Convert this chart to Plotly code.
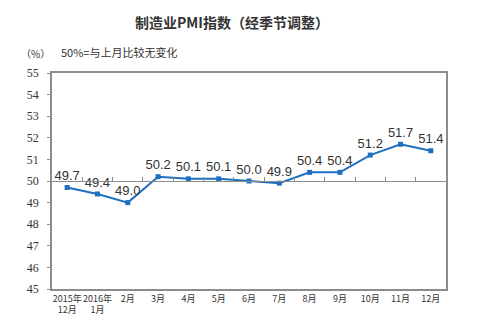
import plotly.graph_objects as go

months = ["2015年<br>12月", "2016年<br>1月", "2月", "3月", "4月", "5月", "6月",
          "7月", "8月", "9月", "10月", "11月", "12月"]
pmi = [49.7, 49.4, 49.0, 50.2, 50.1, 50.1, 50.0, 49.9, 50.4, 50.4, 51.2, 51.7, 51.4]
yticks = [45, 46, 47, 48, 49, 50, 51, 52, 53, 54, 55]

idx = list(range(len(months)))
bounds = [i + 0.5 for i in idx[:-1]]

L, R, T, B = 52, 54, 73, 40
pw, ph = 500 - L - R, 329 - T - B
def px(x): return (x - L) / pw
def py(y): return (329 - B - y) / ph

fig = go.Figure()
fig.add_trace(go.Scatter(
    x=idx, y=pmi, mode="lines+markers+text",
    line=dict(color="#1f6fc0", width=2),
    marker=dict(symbol="square", size=5, color="#1f6fc0"),
    text=[f"{v:.1f}" for v in pmi], textposition="top center",
    textfont=dict(family="Liberation Sans, Arial", size=13, color="#333333"),
    cliponaxis=False, showlegend=False,
))
fig.add_trace(go.Scatter(x=[idx[0]], y=[pmi[0]], xaxis="x2", mode="markers",
                         marker=dict(opacity=0), showlegend=False, hoverinfo="skip"))

fig.update_layout(
    width=500, height=329,
    margin=dict(l=L, r=R, t=T, b=B),
    paper_bgcolor="white", plot_bgcolor="white",
    xaxis=dict(range=[-0.5, len(months) - 0.5], tickvals=idx, ticktext=months,
               tickangle=0, automargin=False,
               showgrid=False, zeroline=False, showline=True, mirror=True,
               linecolor="#8c8c8c", linewidth=1.5, ticks="",
               tickfont=dict(family="Noto Sans CJK SC", size=9, color="#333333")),
    xaxis2=dict(overlaying="x", range=[-0.5, len(months) - 0.5], tickvals=bounds,
                showticklabels=False, anchor="free", position=0.5, side="bottom",
                automargin=False,
                showgrid=False, zeroline=False, showline=True, linecolor="#8c8c8c",
                linewidth=1.2, ticks="inside", ticklen=4, tickcolor="#8c8c8c"),
    yaxis=dict(range=[45, 55], tickvals=yticks, showgrid=False, zeroline=False,
               automargin=False,
               showline=True, mirror=True, linecolor="#8c8c8c", linewidth=1.5,
               ticks="outside", ticklen=3, tickcolor="#8c8c8c", ticklabelstandoff=6,
               tickfont=dict(family="Liberation Serif, Times New Roman", size=12, color="#333333")),
    annotations=[
        dict(text="<b>制造业PMI指数（经季节调整）</b>", x=px(232), y=py(22), xref="paper", yref="paper",
             xanchor="center", yanchor="middle",
             showarrow=False, font=dict(family="Noto Sans CJK SC", size=14, color="#333333")),
        dict(text="（%）", x=px(35), y=py(53), xref="paper", yref="paper",
             xanchor="center", yanchor="middle",
             showarrow=False, font=dict(family="Noto Sans CJK SC", size=10, color="#333333")),
        dict(text="50%=与上月比较无变化", x=px(119), y=py(52), xref="paper", yref="paper",
             xanchor="center", yanchor="middle",
             showarrow=False, font=dict(family="Noto Sans CJK SC", size=11, color="#333333")),
    ],
)

fig.write_html("out.html")
